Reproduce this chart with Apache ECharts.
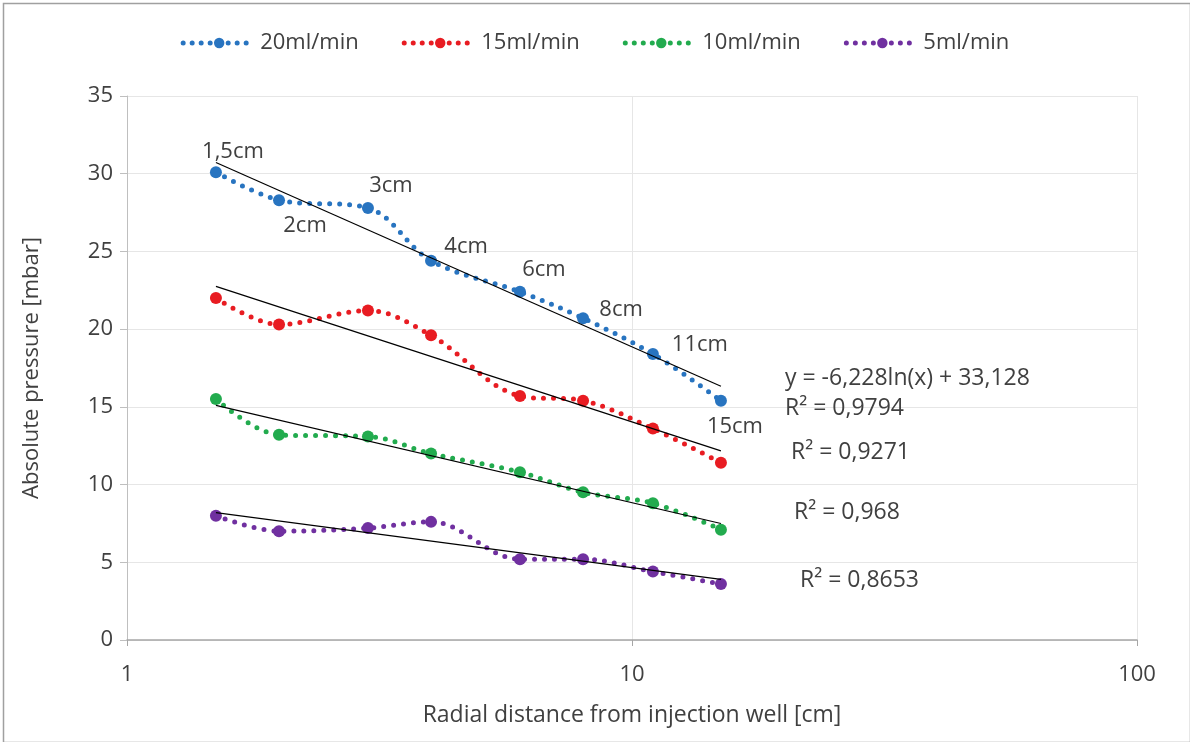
<!DOCTYPE html>
<html>
<head>
<meta charset="utf-8">
<script src="https://cdn.jsdelivr.net/npm/echarts@6/dist/echarts.min.js"></script>
<style>
  html, body { margin: 0; padding: 0; background: #fff; }
  #chart { width: 1190px; height: 742px; }
</style>
</head>
<body>
<div id="chart"></div>
<script>
var myChart = echarts.init(document.getElementById('chart'));

// distances [cm]
var distances = [1.5, 2, 3, 4, 6, 8, 11, 15];
var pointLabels = ['1,5cm', '2cm', '3cm', '4cm', '6cm', '8cm', '11cm', '15cm'];

// absolute pressure [mbar]
var p20 = [30.1, 28.3, 27.8, 24.4, 22.4, 20.7, 18.4, 15.4];
var p15 = [22.0, 20.3, 21.2, 19.6, 15.7, 15.4, 13.6, 11.4];
var p10 = [15.5, 13.2, 13.1, 12.0, 10.8, 9.5, 8.8, 7.1];
var p5 = [8.0, 7.0, 7.2, 7.6, 5.2, 5.2, 4.4, 3.6];

var names = ['20ml/min', '15ml/min', '10ml/min', '5ml/min'];
var colors = ['#2874c0', '#e81c22', '#22ab4e', '#7030a0'];

var fontName = 'Open Sans';
var textColor = '#404040';

// label offsets for the 20ml/min points (label centre relative to marker)
var labelOffsets = [[17, -20], [26, 26], [23, -22], [35, -14], [24, -22], [38, -9], [47, -9], [14, 26]];

function pairs(ys) {
    return distances.map(function (x, i) { return [x, ys[i]]; });
}

// logarithmic least-squares fit, like an Excel trendline
function logFit(ys) {
    var n = distances.length, mx = 0, my = 0, sxy = 0, sxx = 0;
    distances.forEach(function (x, i) { mx += Math.log(x) / n; my += ys[i] / n; });
    distances.forEach(function (x, i) {
        var d = Math.log(x) - mx;
        sxy += d * (ys[i] - my);
        sxx += d * d;
    });
    var b = sxy / sxx, a = my - b * mx;
    var x0 = distances[0], x1 = distances[n - 1];
    return [[x0, a + b * Math.log(x0)], [x1, a + b * Math.log(x1)]];
}

var allData = [p20, p15, p10, p5];
var series = [];

allData.forEach(function (ys, k) {
    var data = pairs(ys);
    if (k === 0) {
        data = data.map(function (d, i) {
            return {
                value: d,
                label: {
                    show: true,
                    formatter: pointLabels[i],
                    position: 'inside',
                    offset: labelOffsets[i],
                    color: textColor,
                    fontFamily: fontName,
                    fontSize: 22
                }
            };
        });
    }
    series.push({
        name: names[k],
        type: 'line',
        data: data,
        smooth: 0.35,
        symbol: 'circle',
        symbolSize: 12,
        itemStyle: { color: colors[k] },
        lineStyle: { color: colors[k], width: 5, type: [0, 10], cap: 'round' },
        z: 3
    });
});

allData.forEach(function (ys) {
    series.push({
        type: 'line',
        data: logFit(ys),
        symbol: 'none',
        silent: true,
        lineStyle: { color: '#000', width: 1.2 },
        z: 4
    });
});

var eqTexts = [
    { text: 'y = -6,228ln(x) + 33,128', left: 785, top: 367 },
    { text: 'R² = 0,9794', left: 785, top: 397 },
    { text: 'R² = 0,9271', left: 791, top: 441 },
    { text: 'R² = 0,968', left: 794, top: 501 },
    { text: 'R² = 0,8653', left: 800, top: 569 }
];

var option = {
    backgroundColor: '#fff',
    animation: false,
    textStyle: { fontFamily: fontName },
    legend: {
        data: names,
        top: 27,
        left: 'center',
        itemWidth: 72,
        itemHeight: 13,
        itemGap: 43,
        lineStyle: { width: 5, type: [0, 9], cap: 'round' },
        textStyle: { color: textColor, fontSize: 22, fontFamily: fontName }
    },
    grid: { left: 127, right: 53, top: 96, bottom: 102 },
    xAxis: {
        type: 'log',
        logBase: 10,
        min: 1,
        max: 100,
        name: 'Radial distance from injection well [cm]',
        nameLocation: 'middle',
        nameGap: 64,
        nameTextStyle: { color: textColor, fontSize: 23, fontFamily: fontName },
        axisLine: { lineStyle: { color: '#a6a6a6', width: 1.5 } },
        axisTick: { show: true, length: 6, lineStyle: { color: '#a6a6a6' } },
        axisLabel: { color: textColor, fontSize: 22, margin: 24, fontFamily: fontName },
        splitLine: { show: true, lineStyle: { color: '#e6e6e6' } },
        minorTick: { show: false },
        minorSplitLine: { show: false }
    },
    yAxis: {
        type: 'value',
        min: 0,
        max: 35,
        interval: 5,
        name: 'Absolute pressure [mbar]',
        nameLocation: 'middle',
        nameGap: 84,
        nameTextStyle: { color: textColor, fontSize: 22, fontFamily: fontName },
        axisLine: { show: true, lineStyle: { color: '#bfbfbf' } },
        axisTick: { show: true, length: 7, lineStyle: { color: '#bfbfbf' } },
        axisLabel: { color: textColor, fontSize: 22, margin: 14, fontFamily: fontName },
        splitLine: { show: true, lineStyle: { color: '#e6e6e6' } }
    },
    graphic: [{
        type: 'rect',
        left: 1,
        top: 1,
        shape: { width: 1187, height: 739 },
        style: { fill: 'none', stroke: '#a0a0a0', lineWidth: 1.5 },
        silent: true
    }].concat(eqTexts.map(function (t) {
        return {
            type: 'text',
            left: t.left,
            top: t.top,
            style: { text: t.text, fill: textColor, font: '23px "Open Sans"' },
            z: 10
        };
    })),
    series: series
};

myChart.setOption(option);
</script>
</body>
</html>
